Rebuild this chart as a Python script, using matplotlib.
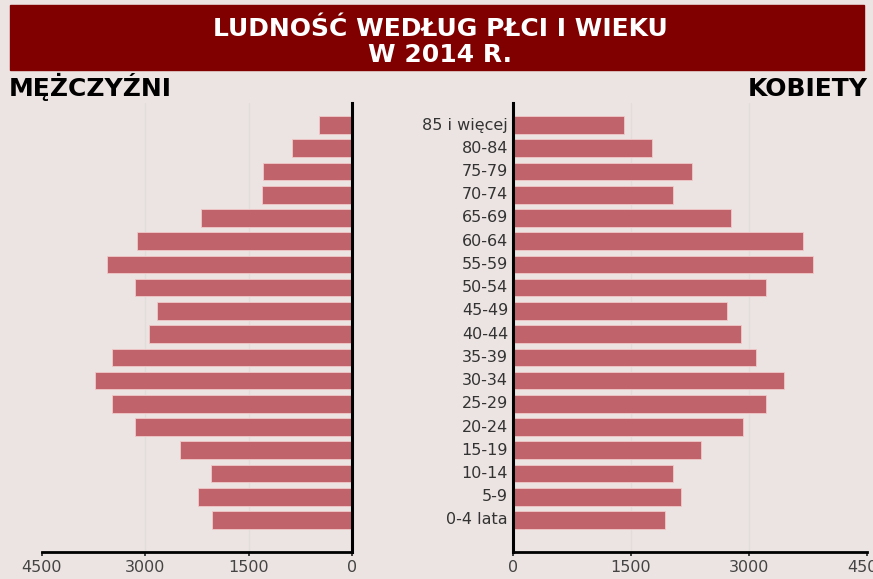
import numpy as np
import matplotlib.pyplot as plt

# DejaVu is wider than Arial-like faces; the reference lettering is wide
plt.rcParams['font.family'] = ['DejaVu Sans']

# age groups, youngest first
age_groups = ['0-4 lata', '5-9', '10-14', '15-19', '20-24', '25-29', '30-34',
              '35-39', '40-44', '45-49', '50-54', '55-59', '60-64', '65-69',
              '70-74', '75-79', '80-84', '85 i więcej']
men = [2030, 2230, 2045, 2490, 3145, 3480, 3725, 3480, 2950, 2825,
       3145, 3550, 3115, 2190, 1305, 1290, 870, 478]
women = [1930, 2135, 2035, 2390, 2920, 3215, 3445, 3090, 2900, 2720,
         3215, 3810, 3685, 2770, 2035, 2275, 1765, 1410]
ticks = [0, 1500, 3000, 4500]

bg = '#ece4e2'
bar_col = '#c1636a'
W, H = 873, 579

fig = plt.figure(figsize=(W / 100, H / 100), dpi=100, facecolor=bg)

# title banner
fig.patches.append(plt.Rectangle((10 / W, 1 - 70 / H), 854 / W, 65 / H,
                                 transform=fig.transFigure, color='#800000',
                                 zorder=0))
fig.text(440 / W, 1 - 36 / H, 'LUDNOŚĆ WEDŁUG PŁCI I WIEKU', color='white',
         fontsize=18, fontweight='bold', ha='center', va='baseline')
fig.text(440 / W, 1 - 62 / H, 'W 2014 R.', color='white',
         fontsize=18, fontweight='bold', ha='center', va='baseline')
fig.text(9 / W, 1 - 96 / H, 'MĘŻCZYŹNI', fontsize=18, fontweight='bold',
         ha='left', va='baseline')
fig.text(868 / W, 1 - 96 / H, 'KOBIETY', fontsize=18, fontweight='bold',
         ha='right', va='baseline')

bottom = 1 - 552 / H
height = (552 - 103) / H
ax_l = fig.add_axes([42 / W, bottom, (352 - 42) / W, height])
ax_r = fig.add_axes([513 / W, bottom, (867 - 513) / W, height])

y = np.arange(len(age_groups))
for ax, vals in ((ax_l, men), (ax_r, women)):
    ax.set_facecolor(bg)
    ax.barh(y, vals, height=0.76, color=bar_col, edgecolor='#f2c9c9',
            linewidth=0.6, zorder=2)
    ax.set_xlim(0, 4500)
    ax.set_ylim(-1.38, 17.95)
    ax.set_xticks(ticks)
    ax.set_yticks([])
    for t in ticks[1:3]:
        ax.axvline(t, color='#e2dcdb', linewidth=1, zorder=1)
    ax.tick_params(axis='x', length=3, width=1.2, colors='#222',
                   labelcolor='#444', labelsize=11.5, pad=3)
    for s in ax.spines.values():
        s.set_visible(False)
    ax.spines['bottom'].set_visible(True)
    ax.spines['bottom'].set_linewidth(2)

ax_l.invert_xaxis()
ax_l.spines['right'].set_visible(True)
ax_l.spines['right'].set_linewidth(2.2)
ax_r.spines['left'].set_visible(True)
ax_r.spines['left'].set_linewidth(2.2)

for i, lab in enumerate(age_groups):
    ax_r.text(-0.014, i, lab, transform=ax_r.get_yaxis_transform(),
              ha='right', va='center', fontsize=11.5, color='#333')

fig.savefig('out.png', dpi=100, facecolor=bg)
